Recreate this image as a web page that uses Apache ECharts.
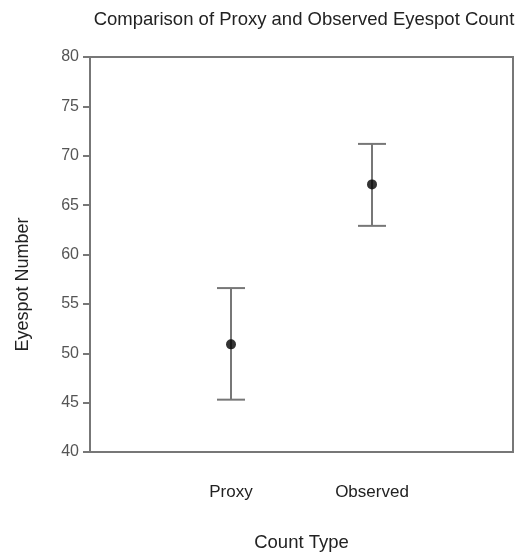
<!DOCTYPE html>
<html lang="en">
  <head>
    <meta charset="UTF-8" />
    <title>Proxy vs Observed Eyespot Count</title>
    <script src="https://cdn.jsdelivr.net/npm/echarts@6.0.0/dist/echarts.min.js"></script>
    <style>
      html, body { margin: 0; padding: 0; background: #fff; }
    </style>
  </head>
  <body>
    <div id="main" style="width: 515px; height: 555px"></div>
    <script type="text/javascript">
      // data
      const categories = ['Proxy', 'Observed'];
      const means = [50.9, 67.1];
      const lowers = [45.3, 62.9];
      const uppers = [56.6, 71.2];
      const yTicks = [40, 45, 50, 55, 60, 65, 70, 75, 80];

      const font = 'Liberation Sans, Arial, Helvetica, sans-serif';
      const axisGray = '#777';

      const chart = echarts.init(document.getElementById('main'));

      const points = means.map((m, i) => [i + 1, m]);
      const bars = means.map((m, i) => [i + 1, lowers[i], uppers[i]]);

      const option = {
        animation: false,
        title: {
          text: 'Comparison of Proxy and Observed Eyespot Count',
          left: 299,
          top: 5,
          textAlign: 'center',
          textStyle: { fontFamily: font, fontSize: 18.5, fontWeight: 'normal', color: '#222' },
        },
        grid: {
          left: 90,
          right: 2,
          top: 57,
          bottom: 103,
          outerBoundsMode: 'none',
          show: true,
          borderColor: axisGray,
          borderWidth: 2,
        },
        xAxis: {
          type: 'value',
          min: 0,
          max: 3,
          interval: 1,
          name: 'Count Type',
          nameLocation: 'middle',
          nameGap: 81,
          nameTextStyle: { fontFamily: font, fontSize: 18.5, color: '#222' },
          axisLine: { show: true, lineStyle: { color: axisGray, width: 2 } },
          axisTick: { show: false },
          splitLine: { show: false },
          axisLabel: {
            margin: 32,
            fontFamily: font,
            fontSize: 17,
            color: '#222',
            formatter: (v) => categories[v - 1] || '',
          },
        },
        yAxis: {
          type: 'value',
          min: yTicks[0],
          max: yTicks[yTicks.length - 1],
          interval: 5,
          name: 'Eyespot Number',
          nameLocation: 'middle',
          nameRotate: 90,
          nameGap: 58,
          nameTextStyle: { fontFamily: font, fontSize: 18, color: '#222', padding: [0, 60, 0, 0] },
          axisLine: { show: true, lineStyle: { color: axisGray, width: 2 } },
          axisTick: { show: true, length: 7, lineStyle: { color: axisGray, width: 2 } },
          splitLine: { show: false },
          axisLabel: { margin: 11, fontFamily: font, fontSize: 16, color: '#555' },
        },
        series: [
          {
            type: 'custom',
            data: bars,
            renderItem: (params, api) => {
              const x = api.value(0);
              const lo = api.coord([x, api.value(1)]);
              const hi = api.coord([x, api.value(2)]);
              const half = 14;
              const style = { stroke: '#777', lineWidth: 2 };
              return {
                type: 'group',
                children: [
                  { type: 'line', shape: { x1: lo[0], y1: lo[1], x2: hi[0], y2: hi[1] }, style },
                  { type: 'line', shape: { x1: hi[0] - half, y1: hi[1], x2: hi[0] + half, y2: hi[1] }, style },
                  { type: 'line', shape: { x1: lo[0] - half, y1: lo[1], x2: lo[0] + half, y2: lo[1] }, style },
                ],
              };
            },
            z: 2,
          },
          {
            type: 'scatter',
            data: points,
            symbolSize: 10,
            itemStyle: { color: '#000' },
            z: 3,
          },
        ],
      };

      chart.setOption(option);
    </script>
  </body>
</html>
